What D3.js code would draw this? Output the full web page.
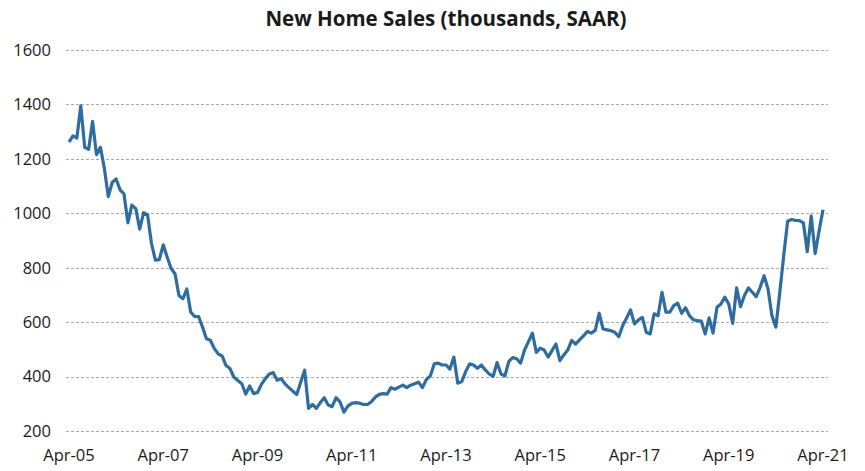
<!DOCTYPE html>
<html>
<head>
<meta charset="utf-8">
<script src="https://cdn.jsdelivr.net/npm/d3@7"></script>
<style>
  html, body { margin: 0; padding: 0; background: #fff; }
  svg { display: block; }
  .grid line { stroke: #a8a8a0; stroke-width: 1; stroke-dasharray: 3 2; }
  .tick-label { font-family: "Open Sans", sans-serif; font-size: 16.5px; fill: #1a1a1a; }
</style>
</head>
<body>
<svg id="chart"></svg>
<script>
  // monthly series, Apr-05 .. Apr-21 (thousands, SAAR)
  const startMonth = new Date(2005, 3, 1);
  const sales = [
    1261, 1284, 1276, 1394, 1242, 1235, 1337, 1215, 1242, 1165, 1061, 1113,
    1126, 1086, 1071, 965, 1030, 1017, 942, 1002, 995, 889, 828, 830,
    884, 839, 797, 778, 698, 686, 722, 637, 621, 621, 582, 539,
    534, 503, 484, 476, 441, 430, 398, 386, 374, 336, 366, 338,
    342, 372, 393, 410, 415, 387, 393, 374, 360, 347, 335, 380,
    424, 284, 298, 284, 305, 323, 296, 290, 323, 308, 270, 292,
    302, 305, 303, 298, 298, 308, 325, 335, 338, 336, 360, 354,
    362, 369, 360, 369, 374, 380, 360, 390, 403, 447, 450, 443,
    443, 428, 472, 376, 382, 418, 447, 443, 431, 443, 425, 410,
    401, 452, 410, 403, 456, 470, 466, 450, 498, 529, 560, 489,
    505, 498, 472, 496, 520, 459, 480, 498, 533, 520, 535, 550,
    566, 560, 570, 633, 575, 572, 569, 563, 547, 588, 616, 645,
    594, 609, 618, 563, 557, 631, 624, 710, 637, 637, 661, 670,
    633, 653, 624, 609, 606, 604, 557, 616, 560, 655, 667, 692,
    667, 596, 726, 657, 698, 726, 710, 694, 728, 771, 722, 624,
    582, 710, 845, 971, 977, 974, 973, 965, 859, 990, 852, 935,
    1013
  ];
  const yTicks = [200, 400, 600, 800, 1000, 1200, 1400, 1600];
  const xTickIndex = [0, 24, 48, 72, 96, 120, 144, 168, 192];
  const title = 'New Home Sales (thousands, SAAR)';

  const width = 865, height = 471;
  const svg = d3.select('#chart').attr('width', width).attr('height', height);

  const x = d3.scaleLinear().domain([0, sales.length - 1]).range([69, 823]);
  const y = d3.scaleLinear().domain([200, 1600]).range([431.2, 49.8]);
  const fmt = d3.timeFormat('%b-%y');

  svg.append('text')
    .attr('x', 446)
    .attr('y', 26)
    .attr('text-anchor', 'middle')
    .style('font-family', '"Open Sans", sans-serif')
    .style('font-size', '20.5px')
    .style('font-weight', '700')
    .style('fill', '#1a1a1a')
    .text(title);

  // gridlines
  svg.append('g')
    .attr('class', 'grid')
    .selectAll('line')
    .data(yTicks)
    .enter()
    .append('line')
    .attr('x1', 66)
    .attr('x2', 828)
    .attr('y1', d => Math.round(y(d)) + 0.5)
    .attr('y2', d => Math.round(y(d)) + 0.5);

  // y labels
  svg.append('g')
    .selectAll('text')
    .data(yTicks)
    .enter()
    .append('text')
    .attr('class', 'tick-label')
    .attr('x', 51)
    .attr('y', d => y(d))
    .attr('dy', '0.35em')
    .attr('text-anchor', 'end')
    .text(d => d);

  // x labels
  svg.append('g')
    .selectAll('text')
    .data(xTickIndex)
    .enter()
    .append('text')
    .attr('class', 'tick-label')
    .attr('x', d => x(d))
    .attr('y', 461)
    .attr('text-anchor', 'middle')
    .text(d => fmt(d3.timeMonth.offset(startMonth, d)));

  const line = d3.line()
    .x((d, i) => x(i))
    .y(d => y(d));

  svg.append('path')
    .datum(sales)
    .attr('d', line)
    .attr('fill', 'none')
    .attr('stroke', '#2f6c9f')
    .attr('stroke-width', 3.2)
    .attr('stroke-linejoin', 'round');
</script>
</body>
</html>
